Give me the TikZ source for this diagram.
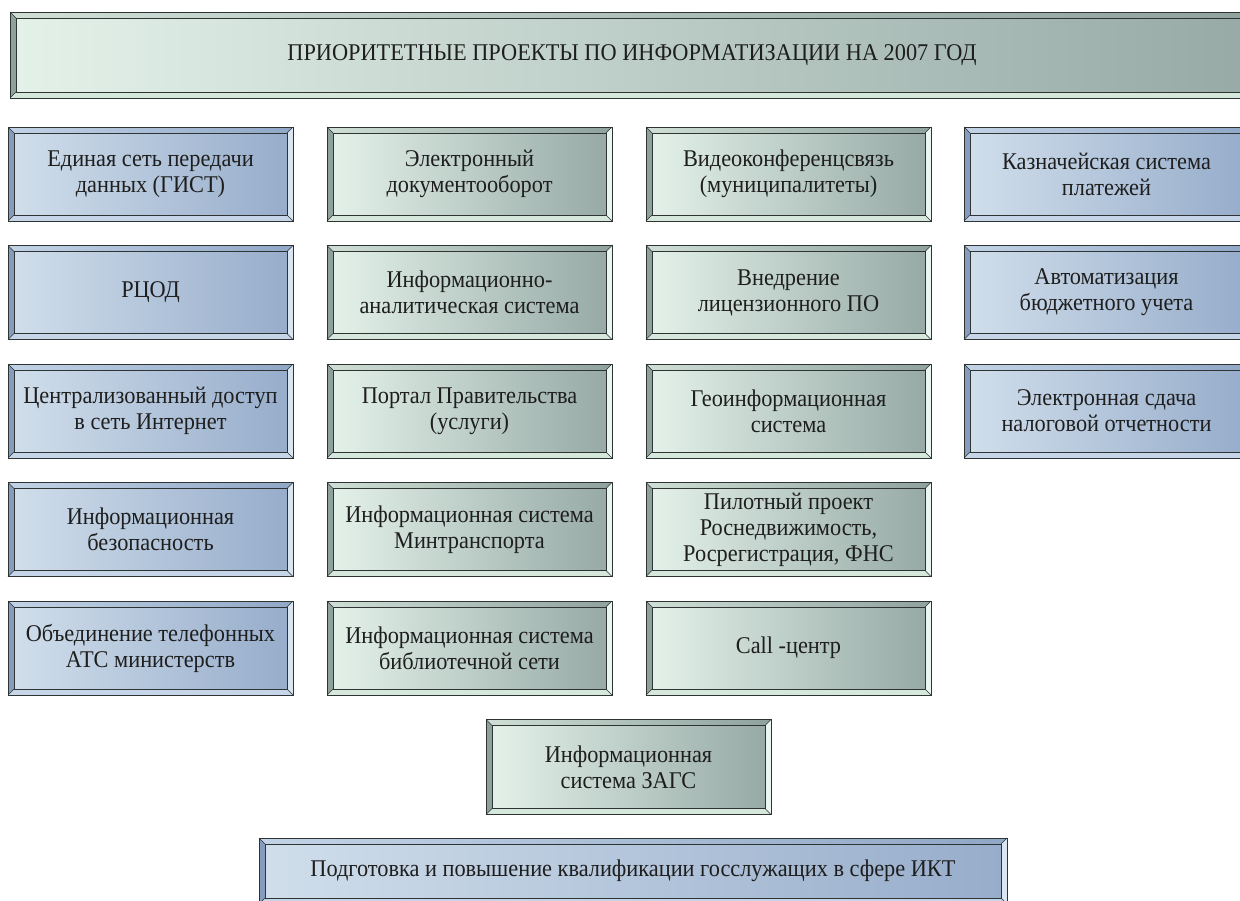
\documentclass[tikz,border=0pt]{standalone}
\usepackage{fontspec}
\setmainfont{Liberation Serif}[FakeStretch=0.93]
\definecolor{edgecol}{HTML}{2E3333}
\definecolor{txtcol}{HTML}{1E1E1E}
% green-grey scheme
\definecolor{ginL}{HTML}{E3F1E9}
\definecolor{ginR}{HTML}{97AAA6}
\definecolor{gtopL}{HTML}{CFDFD6}
\definecolor{gtopR}{HTML}{8FA29E}
\definecolor{gleft}{HTML}{8EA19D}
\definecolor{gright}{HTML}{EAF6EF}
\definecolor{gbot}{HTML}{D6E8DC}
% blue scheme
\definecolor{binL}{HTML}{D0DEEB}
\definecolor{binR}{HTML}{97ADCB}
\definecolor{btopL}{HTML}{C3D3E6}
\definecolor{btopR}{HTML}{90A7C6}
\definecolor{bleft}{HTML}{859CBF}
\definecolor{bright}{HTML}{D9E5F1}
\definecolor{bbot}{HTML}{C6D5E8}
\tikzset{
  edge/.style={draw=edgecol, line width=0.9pt},
  boxtext/.style={draw=edgecol, line width=0.8pt, inner sep=0pt, align=center,
    text=txtcol, font=\fontsize{24}{26}\selectfont},
  gtop/.style={left color=gtopL, right color=gtopR},
  gL/.style={fill=gleft}, gR/.style={fill=gright}, gB/.style={fill=gbot},
  gin/.style={left color=ginL, right color=ginR},
  btop/.style={left color=btopL, right color=btopR},
  bL/.style={fill=bleft}, bR/.style={fill=bright}, bB/.style={fill=bbot},
  bin/.style={left color=binL, right color=binR},
}
% name, x, y, w, h, scheme (g or b), text
\newcommand\bevbox[7]{%
  \pgfmathsetmacro\bxA{#2}\pgfmathsetmacro\byA{#3}%
  \pgfmathsetmacro\bxB{#2+#4}\pgfmathsetmacro\byB{#3+#5}%
  \pgfmathsetmacro\bxI{#2+6}\pgfmathsetmacro\byI{#3+6}%
  \pgfmathsetmacro\bxJ{#2+#4-6}\pgfmathsetmacro\byJ{#3+#5-6}%
  \pgfmathsetmacro\bcx{#2+#4/2}\pgfmathsetmacro\bcy{#3+#5/2}%
  \pgfmathsetmacro\biw{#4-12}\pgfmathsetmacro\bih{#5-12}%
  \shade[#6top] (\bxA,\byA) rectangle (\bxB,\byB);
  \fill[#6L] (\bxA,\byA) -- (\bxI,\byI) -- (\bxI,\byJ) -- (\bxA,\byB) -- cycle;
  \fill[#6R] (\bxB,\byA) -- (\bxJ,\byI) -- (\bxJ,\byJ) -- (\bxB,\byB) -- cycle;
  \fill[#6B] (\bxA,\byB) -- (\bxI,\byJ) -- (\bxJ,\byJ) -- (\bxB,\byB) -- cycle;
  \node[boxtext,#6in,minimum width=\biw pt,minimum height=\bih pt] (#1) at (\bcx,\bcy) {#7};
  \draw[edge,line width=0.6pt] (\bxA,\byA) -- (\bxI,\byI) (\bxB,\byA) -- (\bxJ,\byI)
     (\bxA,\byB) -- (\bxI,\byJ) (\bxB,\byB) -- (\bxJ,\byJ);
  \draw[edge] (\bxA,\byA) rectangle (\bxB,\byB);
}
\begin{document}
\begin{tikzpicture}[x=1pt,y=-1pt]
\useasboundingbox (0,0) rectangle (1240,900);
\clip (0,0) rectangle (1240,900);
\bevbox{title}{10}{12}{1244}{86}{g}{ПРИОРИТЕТНЫЕ ПРОЕКТЫ ПО ИНФОРМАТИЗАЦИИ НА 2007 ГОД}
% column 1
\bevbox{a1}{8}{127}{285}{94}{b}{Единая сеть передачи\\данных (ГИСТ)}
\bevbox{a2}{8}{245.5}{285}{94}{b}{РЦОД}
\bevbox{a3}{8}{364}{285}{94}{b}{Централизованный доступ\\в сеть Интернет}
\bevbox{a4}{8}{482.5}{285}{94}{b}{Информационная\\безопасность}
\bevbox{a5}{8}{601}{285}{94}{b}{Объединение телефонных\\АТС министерств}
% column 2
\bevbox{b1}{327}{127}{285}{94}{g}{Электронный\\документооборот}
\bevbox{b2}{327}{245.5}{285}{94}{g}{Информационно-\\аналитическая система}
\bevbox{b3}{327}{364}{285}{94}{g}{Портал Правительства\\(услуги)}
\bevbox{b4}{327}{482.5}{285}{94}{g}{Информационная система\\Минтранспорта}
\bevbox{b5}{327}{601}{285}{94}{g}{Информационная система\\библиотечной сети}
% column 3
\bevbox{c1}{646}{127}{285}{94}{g}{Видеоконференцсвязь\\(муниципалитеты)}
\bevbox{c2}{646}{245.5}{285}{94}{g}{Внедрение\\лицензионного ПО}
\bevbox{c3}{646}{364}{285}{94}{g}{Геоинформационная\\система}
\bevbox{c4}{646}{482.5}{285}{94}{g}{\fontsize{24}{24}\selectfont Пилотный проект\\Роснедвижимость,\\Росрегистрация, ФНС}
\bevbox{c5}{646}{601}{285}{94}{g}{Call -центр}
% column 4
\bevbox{d1}{964}{127}{285}{94}{b}{Казначейская система\\платежей}
\bevbox{d2}{964}{245.5}{285}{94}{b}{Автоматизация\\бюджетного учета}
\bevbox{d3}{964}{364}{285}{94}{b}{Электронная сдача\\налоговой отчетности}
% bottom
\bevbox{zags}{486}{719.5}{285}{95}{g}{Информационная\\система ЗАГС}
\bevbox{train}{259}{838}{748}{66}{b}{Подготовка и повышение квалификации госслужащих в сфере ИКТ}
\end{tikzpicture}
\end{document}
